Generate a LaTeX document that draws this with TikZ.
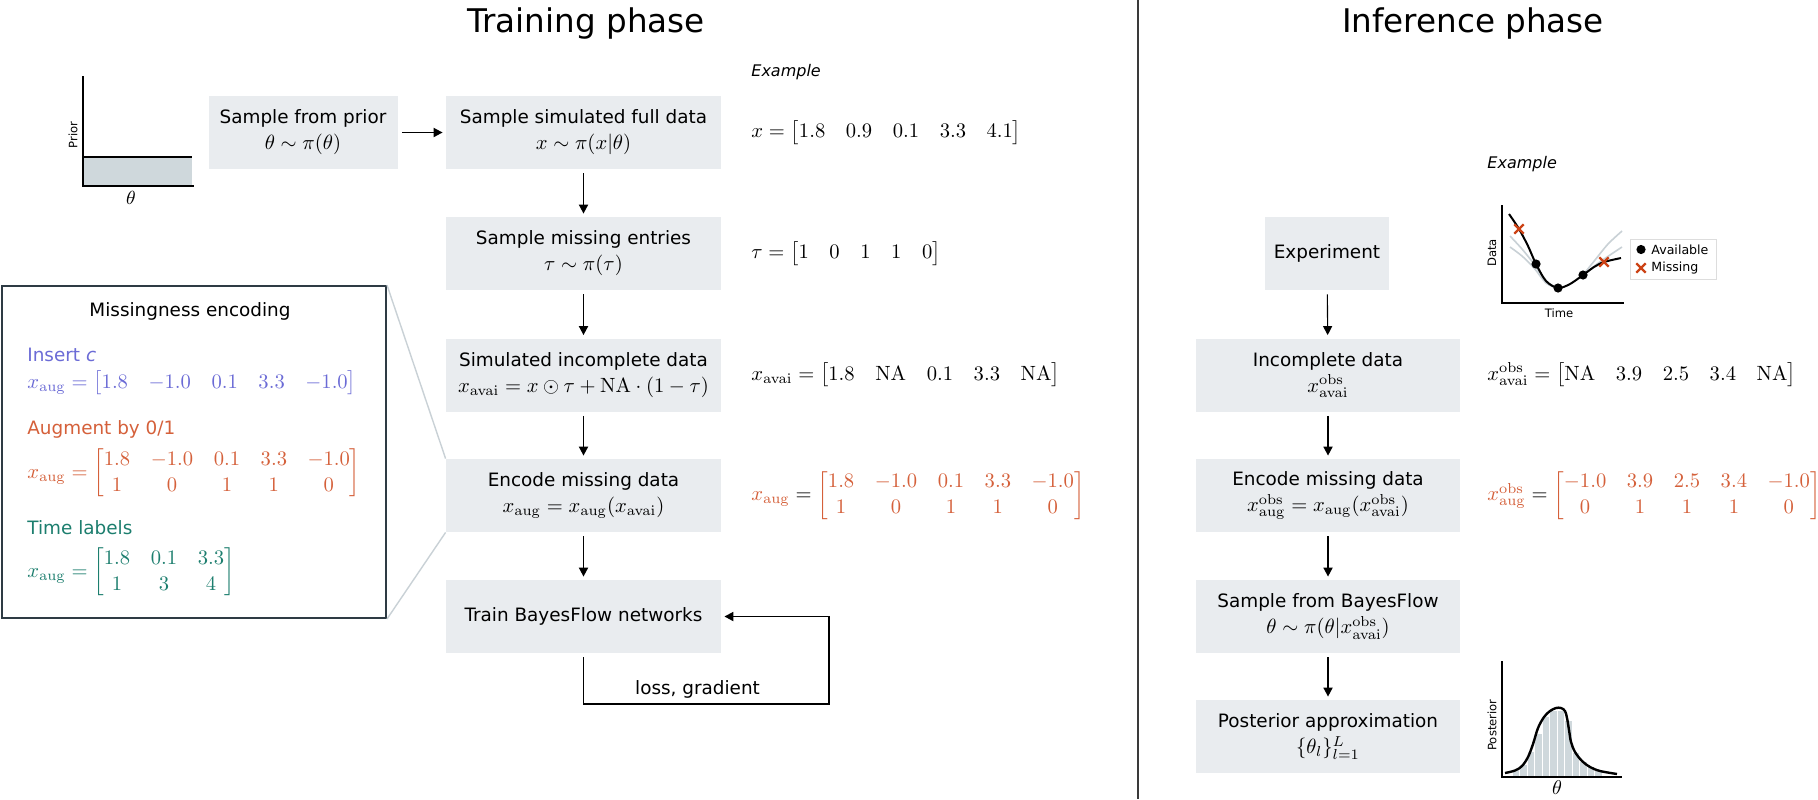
\RequirePackage{fix-cm}
\documentclass[tikz,border=0pt]{standalone}
\usepackage{amsmath}
\usepackage[no-math]{fontspec}
\newfontfamily\dv{DejaVu Sans}
\usetikzlibrary{arrows.meta,shapes.misc}
\definecolor{boxfill}{HTML}{E9ECEF}
\definecolor{blu}{HTML}{6B6BD6}
\definecolor{orng}{HTML}{D5603A}
\definecolor{tealc}{HTML}{1C7E6E}
\definecolor{xred}{HTML}{CC4215}
\definecolor{plotfill}{HTML}{CFD8DC}
\definecolor{zline}{HTML}{C9D1D6}
\definecolor{sepc}{HTML}{3A3A3A}
\definecolor{mborder}{HTML}{2E3B44}
\definecolor{legb}{HTML}{DDDDDD}
\setlength{\arraycolsep}{5.15pt}
\newcommand\bodyfont{\dv\fontsize{9.2}{13}\selectfont}
\newcommand\mth[1]{{\fontsize{10.3}{13}\selectfont$#1$}}
\newcommand\rmsub[1]{\mathrm{#1}}
\tikzset{
  box/.style={fill=boxfill, inner sep=0pt, align=center, font=\bodyfont},
  tbox/.style={box, minimum width=137.5pt, minimum height=36.5pt},
  ibox/.style={box, minimum width=132pt, minimum height=36.5pt},
  arr/.style={-{Triangle[length=4.5pt,width=4.5pt]}, line width=0.9pt, shorten <=2pt, shorten >=1.5pt},
  ex/.style={anchor=west, inner sep=0pt},
  lbl/.style={anchor=west, inner sep=0pt, font=\bodyfont},
  axlbl/.style={inner sep=0pt, font=\dv\fontsize{5.8}{7}\selectfont},
  leglbl/.style={anchor=west, inner sep=0pt, font=\dv\fontsize{6.3}{7.5}\selectfont},
  exlbl/.style={anchor=west, inner sep=0pt, font=\dv\itshape\fontsize{8}{10}\selectfont},
  ttl/.style={anchor=base, inner sep=0pt, font=\dv\fontsize{16.3}{20}\selectfont},
  xmark/.style={cross out, draw=xred, line width=1.1pt, minimum size=3.6pt, inner sep=0pt},
  axis/.style={line width=1.25pt},
  zoomln/.style={draw=zline, line width=0.7pt},
}
\begin{document}
\begin{tikzpicture}[x=0.5pt, y=-0.5pt]
\fill[white] (0,0) rectangle (1818,799);
\useasboundingbox (0,0) rectangle (1818,799);

% separator
\draw[sepc, line width=0.7pt] (1138,0) -- (1138,799);

% titles
\node[ttl] (ttrain) at (586,32.7) {Training phase};
\node[ttl] (tinf) at (1473,32.7) {Inference phase};

% ---------- prior plot ----------
\fill[plotfill] (84,157) rectangle (192,185);
\draw[line width=0.9pt] (84,157) -- (192,157);
\draw[axis] (83,76) -- (83,186) -- (194,186);
\node[axlbl, rotate=90] (priorlbl) at (73,135) {Prior};
\node[inner sep=0pt, font=\fontsize{9.5}{11}\selectfont] (priortheta) at (131,198) {$\theta$};

% ---------- training column ----------
\node[box, minimum width=94.5pt, minimum height=36.5pt] (prior) at (303,132.5)
  {Sample from prior\\\mth{\theta\sim\pi(\theta)}};
\node[tbox] (full) at (583.5,132.5)
  {Sample simulated full data\\\mth{x\sim\pi(x|\theta)}};
\node[tbox] (miss) at (583.5,253.5)
  {Sample missing entries\\\mth{\tau\sim\pi(\tau)}};
\node[tbox] (inc) at (583.5,375)
  {Simulated incomplete data\\\mth{x_{\rmsub{avai}}=x\odot\tau+\mathrm{NA}\cdot(1-\tau)}};
\node[tbox] (enc) at (583.5,495.5)
  {Encode missing data\\\mth{x_{\rmsub{aug}}=x_{\rmsub{aug}}(x_{\rmsub{avai}})}};
\node[tbox] (train) at (583.5,616.5) {Train BayesFlow networks};

\draw[arr] (prior) -- (full);
\draw[arr] (full) -- (miss);
\draw[arr] (miss) -- (inc);
\draw[arr] (inc) -- (enc);
\draw[arr] (enc) -- (train);
\coordinate (loopc) at (829,704);
\draw[arr] (train.south) |- (loopc) |- (train.east);
\node[inner sep=0pt, font=\bodyfont] (losslbl) at (697.5,689) {loss, gradient};

% examples (training)
\node[exlbl] (ex1) at (751,72) {Example};
\node[ex] (xfull) at (751,132.5)
  {\mth{x=\begin{bmatrix}1.8 & 0.9 & 0.1 & 3.3 & 4.1\end{bmatrix}}};
\node[ex] (xtau) at (751,253.5)
  {\mth{\tau=\begin{bmatrix}1 & 0 & 1 & 1 & 0\end{bmatrix}}};
\node[ex] (xavai) at (751,375)
  {\mth{x_{\rmsub{avai}}=\begin{bmatrix}1.8 & \mathrm{NA} & 0.1 & 3.3 & \mathrm{NA}\end{bmatrix}}};
\node[ex] (xaug) at (751,495.5)
  {\mth{\textcolor{orng}{x_{\rmsub{aug}}}=\color{orng}\begin{bmatrix}1.8 & -1.0 & 0.1 & 3.3 & -1.0\\ 1 & 0 & 1 & 1 & 0\end{bmatrix}}};

% ---------- missingness encoding ----------
\node[draw=mborder, line width=1pt, minimum width=192pt, minimum height=166pt, inner sep=0pt] (menc) at (194,452) {};
\draw[zoomln] (menc.north east) -- (enc.north west);
\draw[zoomln] (menc.south east) -- (enc.south west);
\node[inner sep=0pt, font=\bodyfont] (mtitle) at (190,311) {Missingness encoding};
\node[lbl, text=blu] (ins) at (27,355) {Insert {\itshape c}};
\node[ex] (insm) at (27,383)
  {\mth{\color{blu}x_{\rmsub{aug}}=\begin{bmatrix}1.8 & -1.0 & 0.1 & 3.3 & -1.0\end{bmatrix}}};
\node[lbl, text=orng] (augl) at (27,429) {Augment by 0/1};
\node[ex] (augm) at (27,473)
  {\mth{\color{orng}x_{\rmsub{aug}}=\begin{bmatrix}1.8 & -1.0 & 0.1 & 3.3 & -1.0\\ 1 & 0 & 1 & 1 & 0\end{bmatrix}}};
\node[lbl, text=tealc] (timel) at (27,528) {Time labels};
\node[ex] (timem) at (27,572)
  {\mth{\color{tealc}x_{\rmsub{aug}}=\begin{bmatrix}1.8 & 0.1 & 3.3\\ 1 & 3 & 4\end{bmatrix}}};

% ---------- inference column ----------
\node[box, minimum width=62pt, minimum height=36.5pt] (exp) at (1327,253.5) {Experiment};
\node[ibox] (iinc) at (1328,375)
  {Incomplete data\\\mth{x^{\rmsub{obs}}_{\rmsub{avai}}}};
\node[ibox] (ienc) at (1328,495.5)
  {Encode missing data\\\mth{x^{\rmsub{obs}}_{\rmsub{aug}}=x_{\rmsub{aug}}(x^{\rmsub{obs}}_{\rmsub{avai}})}};
\node[ibox] (isamp) at (1328,616.5)
  {Sample from BayesFlow\\\mth{\theta\sim\pi(\theta|x^{\rmsub{obs}}_{\rmsub{avai}})}};
\node[ibox] (ipost) at (1328,736.5)
  {Posterior approximation\\\mth{\{\theta_l\}_{l=1}^{L}}};

\draw[arr, line width=0.55pt] (exp) -- (iinc);
\draw[arr] (iinc) -- (ienc);
\draw[arr] (ienc) -- (isamp);
\draw[arr] (isamp) -- (ipost);

\node[exlbl] (ex2) at (1487,164) {Example};
\node[ex] (ixavai) at (1487,375)
  {\mth{x^{\rmsub{obs}}_{\rmsub{avai}}=\begin{bmatrix}\mathrm{NA} & 3.9 & 2.5 & 3.4 & \mathrm{NA}\end{bmatrix}}};
\node[ex] (ixaug) at (1487,495.5)
  {\mth{\textcolor{orng}{x^{\rmsub{obs}}_{\rmsub{aug}}}=\color{orng}\begin{bmatrix}-1.0 & 3.9 & 2.5 & 3.4 & -1.0\\ 0 & 1 & 1 & 1 & 0\end{bmatrix}}};

% ---------- data plot ----------
\draw[zline, line width=0.8pt] plot[smooth] coordinates {(1510,236) (1522,249) (1534,264) (1546,281) (1557,288)};
\draw[zline, line width=0.8pt] plot[smooth] coordinates {(1510,247) (1522,256) (1534,268) (1546,283) (1557,288)};
\draw[zline, line width=0.8pt] plot[smooth] coordinates {(1583,275) (1595,260) (1608,244) (1622,231)};
\draw[zline, line width=0.8pt] plot[smooth] coordinates {(1583,275) (1597,264) (1610,255) (1622,247)};
\draw[line width=1pt] plot[smooth] coordinates {(1509,214) (1519,229) (1528,246) (1536,264) (1546,281) (1558,288) (1570,284) (1583,275) (1594,267) (1604,262) (1621,258)};
\draw[axis] (1502,205) -- (1502,303) -- (1624,303);
\fill (1536,264) circle (2.3pt);
\fill (1558,288) circle (2.3pt);
\fill (1583,275) circle (2.3pt);
\node[xmark] (m1) at (1519,229) {};
\node[xmark] (m2) at (1604,262) {};
\node[axlbl, rotate=90] (datalbl) at (1492,253) {Data};
\node[axlbl] (timelbl) at (1559,313) {Time};
\node[draw=legb, line width=0.4pt, fill=white, minimum width=43pt, minimum height=20pt, inner sep=0pt] (leg) at (1673,259) {};
\fill (1641,249.5) circle (2.3pt);
\node[leglbl] (lav) at (1651,249.5) {Available};
\node[xmark] (m3) at (1641,268) {};
\node[leglbl] (lmi) at (1651,268) {Missing};

% ---------- posterior plot ----------
\foreach \a/\b/\t in {1512/1519.5/769, 1519.5/1527/764, 1527/1534.5/751, 1534.5/1542/733, 1542/1549.5/716, 1549.5/1557/710, 1557/1564.5/710, 1564.5/1572/720, 1572/1579.5/752, 1579.5/1587/761, 1587/1594.5/766, 1594.5/1602/770}
  \filldraw[fill=plotfill, draw=white, line width=0.4pt] (\a,776) rectangle (\b,\t);
\draw[line width=1.2pt] plot[smooth, tension=0.55] coordinates {(1505,773) (1515,770.5) (1522,766) (1528,757) (1533,744) (1538,728) (1544,717) (1550,711) (1556,708) (1561,708) (1565,711) (1567,718) (1569,730) (1571,742) (1575,752) (1582,761) (1590,767) (1600,771) (1617,774)};
\draw[axis] (1502,661) -- (1502,777) -- (1622,777);
\node[axlbl, rotate=90] (postlbl) at (1492,725) {Posterior};
\node[inner sep=0pt, font=\fontsize{10}{12}\selectfont] (posttheta) at (1557,788) {$\theta$};
\end{tikzpicture}
\end{document}
